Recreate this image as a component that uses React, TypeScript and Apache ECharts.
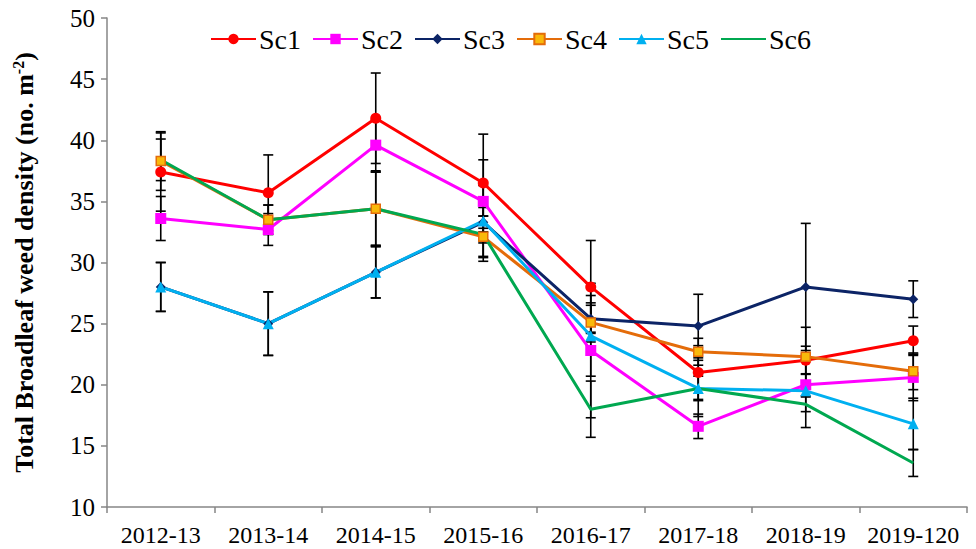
import React, { useEffect, useRef } from "react";
import * as echarts from "echarts";

const categories = ["2012-13", "2013-14", "2014-15", "2015-16", "2016-17", "2017-18", "2018-19", "2019-120"];
const seriesNames = ["Sc1", "Sc2", "Sc3", "Sc4", "Sc5", "Sc6"];

const sc1 = [37.4, 35.7, 41.8, 36.5, 28.0, 21.0, 22.0, 23.6];
const sc2 = [33.6, 32.7, 39.6, 35.0, 22.8, 16.6, 20.0, 20.6];
const sc3 = [28.0, 25.0, 29.2, 33.3, 25.4, 24.8, 28.0, 27.0];
const sc4 = [38.3, 33.5, 34.4, 32.1, 25.1, 22.7, 22.3, 21.1];
const sc5 = [28.0, 25.0, 29.2, 33.4, 24.0, 19.7, 19.5, 16.8];
const sc6 = [38.4, 33.5, 34.4, 32.3, 18.0, 19.7, 18.4, 13.6];

const err1 = [3.2, 3.1, 3.7, 4.0, 3.8, 2.2, 1.15, 1.2];
const err2 = [1.8, 1.3, 2.1, 3.4, 5.5, 1.0, 0.9, 1.9];
const err3 = [2.0, 2.6, 2.1, 0.5, 1.1, 2.6, 5.2, 1.5];
const err4 = [2.4, 1.2, 3.0, 1.7, 1.6, 1.1, 2.4, 1.5];
const err5 = [2.0, 2.6, 2.1, 2.9, 3.3, 1.0, 3.0, 2.1];
const err6 = [1.7, 1.2, 3.0, 2.2, 2.3, 2.3, 0.6, 1.1];

const values = [sc1, sc2, sc3, sc4, sc5, sc6];
const errors = [err1, err2, err3, err4, err5, err6];
const colors = ["#FF0000", "#FF00FF", "#0C2466", "#E46C0A", "#00B0F0", "#00A850"];
const symbols = ["circle", "rect", "diamond", "rect", "triangle", "circle"];
const symbolSizes = [11, 11, 10, 9, 11, 0];
const markerFill = ["#FF0000", "#FF00FF", "#0C2466", "#F9B90B", "#00B0F0", "rgba(0,0,0,0)"];

const FONT = "Liberation Serif, Times New Roman, serif";

export default function App() {
  const ref = useRef<HTMLDivElement>(null);
  useEffect(() => {
    if (!ref.current) return;
    const chart = echarts.init(ref.current, null, { renderer: "svg" });

    const errorSeries = values.map((vals, si) => ({
      type: "custom",
      name: seriesNames[si] + "_err",
      z: 1,
      silent: true,
      data: vals.map((v, i) => [i, v - errors[si][i], v + errors[si][i]]),
      encode: { x: 0, y: [1, 2] },
      renderItem: (params: any, api: any) => {
        const lo = api.coord([api.value(0), api.value(1)]);
        const hi = api.coord([api.value(0), api.value(2)]);
        const hw = 5;
        const style = { stroke: "#000", lineWidth: 1.6 };
        return {
          type: "group",
          children: [
            { type: "line", shape: { x1: lo[0], y1: lo[1], x2: hi[0], y2: hi[1] }, style },
            { type: "line", shape: { x1: lo[0] - hw, y1: lo[1], x2: lo[0] + hw, y2: lo[1] }, style },
            { type: "line", shape: { x1: hi[0] - hw, y1: hi[1], x2: hi[0] + hw, y2: hi[1] }, style },
          ],
        };
      },
    }));

    const lineSeries = values.map((vals, si) => ({
      type: "line",
      name: seriesNames[si],
      z: 3,
      data: vals,
      symbol: symbols[si],
      symbolSize: symbolSizes[si],
      showSymbol: si !== 5,
      lineStyle: { color: colors[si], width: 3 },
      itemStyle: {
        color: markerFill[si],
        borderColor: si === 3 ? "#E46C0A" : markerFill[si],
        borderWidth: si === 3 ? 1.5 : 0,
      },
    }));

    chart.setOption({
      animation: false,
      backgroundColor: "#fff",
      grid: { left: 107, right: 9, top: 18, bottom: 42, containLabel: false },
      legend: {
        data: seriesNames,
        top: 20,
        left: 205,
        itemWidth: 45,
        itemHeight: 13,
        itemGap: 11,
        textStyle: { fontFamily: FONT, fontSize: 28, color: "#000", padding: [0, 0, 0, -2] },
      },
      xAxis: {
        type: "category",
        data: categories,
        boundaryGap: true,
        axisLine: { lineStyle: { color: "#868686", width: 1.5 } },
        axisTick: { show: true, length: 6, lineStyle: { color: "#868686", width: 1.5 } },
        axisLabel: { fontFamily: FONT, fontSize: 24, color: "#000", margin: 16, interval: 0, hideOverlap: false },
        splitLine: { show: false },
      },
      yAxis: {
        type: "value",
        min: 10,
        max: 50,
        interval: 5,
        name: "{a|Total Broadleaf weed density (no. m}{s|-2}{a|)}",
        nameLocation: "middle",
        nameGap: 69,
        nameRotate: 90,
        nameTextStyle: {
          rich: {
            a: { fontFamily: FONT, fontSize: 26, fontWeight: "bold", color: "#000" },
            s: { fontFamily: FONT, fontSize: 16, fontWeight: "bold", color: "#000", verticalAlign: "top", padding: [0, 0, 12, 0] },
          },
        },
        axisLine: { show: true, lineStyle: { color: "#868686", width: 1.5 } },
        axisTick: { show: true, length: 6, lineStyle: { color: "#868686", width: 1.5 } },
        axisLabel: { fontFamily: FONT, fontSize: 25, color: "#000", margin: 12 },
        splitLine: { show: false },
      },
      series: [...errorSeries, ...lineSeries],
    });
    return () => chart.dispose();
  }, []);
  return <div ref={ref} style={{ position: "fixed", left: 0, top: 0, width: 976, height: 549 }} />;
}
